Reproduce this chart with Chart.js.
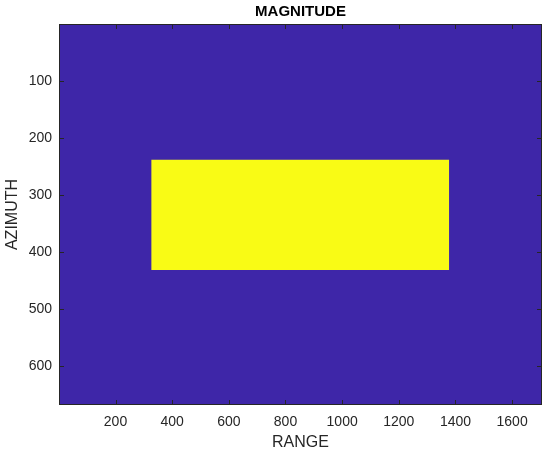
<!DOCTYPE html>
<html>
<head>
<meta charset="utf-8">
<script src="https://cdn.jsdelivr.net/npm/chart.js@4"></script>
<style>
  html, body { margin: 0; padding: 0; background: #fff; }
  #wrap { width: 550px; height: 455px; }
</style>
</head>
<body>
<div id="wrap"><canvas id="grafico"></canvas></div>
<script>
// image size (pixels) and the bright target inside it
const RANGE_LIMITS = [0.5, 1705.5];
const AZIMUTH_LIMITS = [0.5, 667.5];
const TARGET_RANGE = [326, 1378];
const TARGET_AZIMUTH = [238, 431];
const RANGE_TICKS = [200, 400, 600, 800, 1000, 1200, 1400, 1600];
const AZIMUTH_TICKS = [100, 200, 300, 400, 500, 600];

const COR_FUNDO = 'rgb(62,38,168)';
const COR_ALVO = 'rgb(249,251,21)';
const COR_EIXO = '#262626';
const FONTE = 'Arial, "Liberation Sans", sans-serif';

// caixa e marcas para dentro, como no MATLAB
const caixaEixos = {
  id: 'caixaEixos',
  afterDatasetsDraw(chart) {
    const { ctx, chartArea: a, scales } = chart;
    const tam = 5;
    const l = Math.round(a.left), r = Math.round(a.right);
    const t = Math.round(a.top), b = Math.round(a.bottom);
    ctx.save();
    ctx.strokeStyle = COR_EIXO;
    ctx.lineWidth = 1;
    ctx.beginPath();
    RANGE_TICKS.forEach((v) => {
      const x = Math.round(scales.x.getPixelForValue(v)) + 0.5;
      ctx.moveTo(x, b); ctx.lineTo(x, b - tam);
      ctx.moveTo(x, t); ctx.lineTo(x, t + tam);
    });
    AZIMUTH_TICKS.forEach((v) => {
      const y = Math.round(scales.y.getPixelForValue(v)) + 0.5;
      ctx.moveTo(l, y); ctx.lineTo(l + tam, y);
      ctx.moveTo(r, y); ctx.lineTo(r - tam, y);
    });
    ctx.stroke();
    ctx.strokeRect(l + 0.5, t + 0.5, r - l - 1, b - t - 1);
    ctx.restore();
  },
};

const rotulo = (v) => String(v);

new Chart(document.getElementById('grafico'), {
  type: 'scatter',
  data: {
    datasets: [
      {
        label: 'alvo',
        data: [
          { x: TARGET_RANGE[0], y: TARGET_AZIMUTH[0] },
          { x: TARGET_RANGE[1], y: TARGET_AZIMUTH[0] },
        ],
        showLine: true,
        borderWidth: 0,
        pointRadius: 0,
        backgroundColor: COR_ALVO,
        fill: { value: TARGET_AZIMUTH[1] },
      },
      {
        label: 'fundo',
        data: [
          { x: RANGE_LIMITS[0], y: AZIMUTH_LIMITS[0] },
          { x: RANGE_LIMITS[1], y: AZIMUTH_LIMITS[0] },
        ],
        showLine: true,
        borderWidth: 0,
        pointRadius: 0,
        backgroundColor: COR_FUNDO,
        fill: { value: AZIMUTH_LIMITS[1] },
      },
    ],
  },
  options: {
    responsive: true,
    maintainAspectRatio: false,
    animation: false,
    layout: { padding: { left: 0, right: 8, top: 0, bottom: 0 } },
    plugins: {
      legend: { display: false },
      tooltip: { enabled: false },
      title: {
        display: true,
        text: 'MAGNITUDE',
        fullSize: false,
        color: '#000',
        font: { family: FONTE, size: 15, weight: 'bold' },
        padding: { top: 3, bottom: 3 },
      },
    },
    scales: {
      x: {
        type: 'linear',
        min: RANGE_LIMITS[0],
        max: RANGE_LIMITS[1],
        afterBuildTicks: (s) => { s.ticks = RANGE_TICKS.map((v) => ({ value: v })); },
        afterFit: (s) => { s.height = 50; },
        grid: { display: false, drawTicks: false, tickLength: 0 },
        border: { display: false },
        ticks: { color: COR_EIXO, font: { family: FONTE, size: 14 }, padding: 9, maxRotation: 0, autoSkip: false, callback: rotulo },
        title: { display: true, text: 'RANGE', color: COR_EIXO, font: { family: FONTE, size: 16 }, padding: { top: 4, bottom: 3 } },
      },
      y: {
        type: 'linear',
        reverse: true,
        min: AZIMUTH_LIMITS[0],
        max: AZIMUTH_LIMITS[1],
        afterBuildTicks: (s) => { s.ticks = AZIMUTH_TICKS.map((v) => ({ value: v })); },
        afterFit: (s) => { s.width = 59; },
        grid: { display: false, drawTicks: false, tickLength: 0 },
        border: { display: false },
        ticks: { color: COR_EIXO, font: { family: FONTE, size: 14 }, padding: 7, autoSkip: false, callback: rotulo },
        title: { display: true, text: 'AZIMUTH', color: COR_EIXO, font: { family: FONTE, size: 16 }, padding: { top: 3, bottom: 4 } },
      },
    },
  },
  plugins: [caixaEixos],
});
</script>
</body>
</html>
